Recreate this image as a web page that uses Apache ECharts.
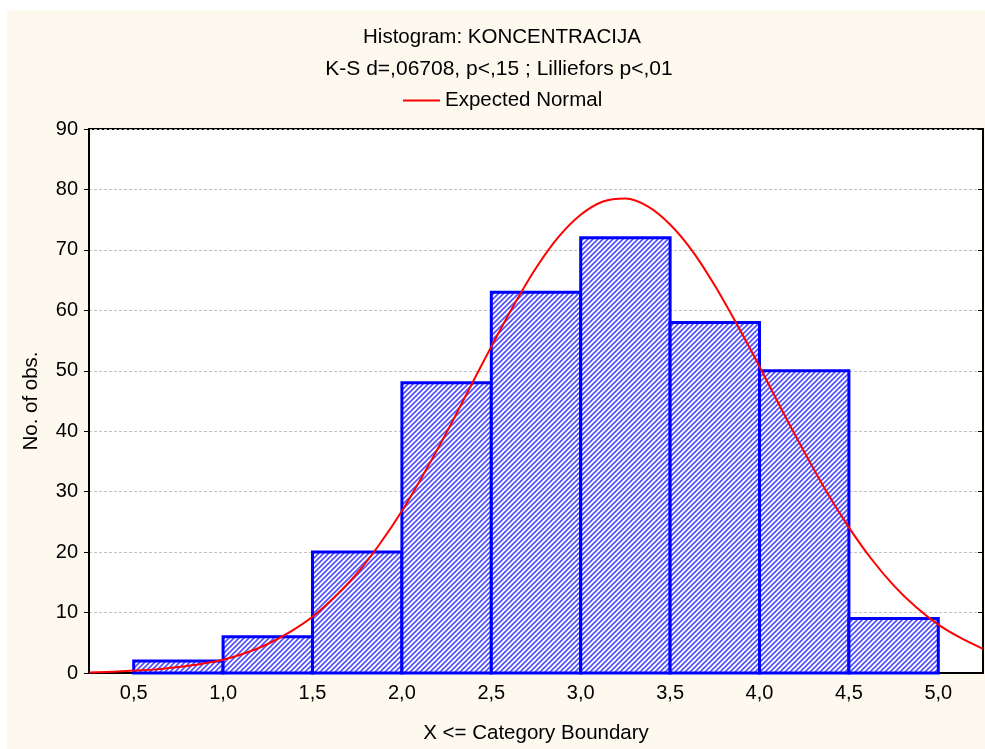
<!DOCTYPE html>
<html>
<head>
<meta charset="utf-8">
<script src="https://cdn.jsdelivr.net/npm/echarts@6/dist/echarts.min.js"></script>
<style>
html,body{margin:0;padding:0;background:#ffffff;width:985px;height:749px;overflow:hidden;}
#chart{position:absolute;left:7px;top:10px;width:978px;height:739px;}
</style>
</head>
<body>
<div id="chart"></div>
<script>
// ---- data ----
const binStart = [0.5, 1.0, 1.5, 2.0, 2.5, 3.0, 3.5, 4.0, 4.5];
const binEnd   = [1.0, 1.5, 2.0, 2.5, 3.0, 3.5, 4.0, 4.5, 5.0];
const counts   = [2, 6, 20, 48, 63, 72, 58, 50, 9];
const curveX = [0.25, 0.375, 0.5, 0.625, 0.75, 0.875, 1.0, 1.125, 1.25, 1.375, 1.5, 1.625, 1.75, 1.875,
                2.0, 2.125, 2.25, 2.375, 2.5, 2.625, 2.75, 2.875, 3.0, 3.125, 3.25, 3.375, 3.5, 3.625,
                3.75, 3.875, 4.0, 4.125, 4.25, 4.375, 4.5, 4.625, 4.75, 4.875, 5.0, 5.125, 5.25];
const curveY = [0.1, 0.2, 0.4, 0.6, 1.0, 1.5, 2.2, 3.3, 4.8, 6.8, 9.3, 12.6, 16.5, 21.3,
                26.8, 33.1, 39.8, 46.9, 54.0, 60.8, 67.0, 72.1, 75.8, 78.0, 78.5, 77.2, 74.2, 69.8,
                64.1, 57.6, 50.7, 43.5, 36.6, 30.0, 24.1, 18.9, 14.5, 10.9, 8.0, 5.8, 4.0];
const xTicks = [0.5, 1.0, 1.5, 2.0, 2.5, 3.0, 3.5, 4.0, 4.5, 5.0];
const titleText = 'Histogram: KONCENTRACIJA';
const subtitleText = 'K-S d=,06708, p<,15 ; Lilliefors p<,01';
const legendName = 'Expected Normal';

// hatch pattern
const pc = document.createElement('canvas');
pc.width = 5; pc.height = 5;
const g = pc.getContext('2d');
g.fillStyle = '#ffffff'; g.fillRect(0,0,5,5);
g.strokeStyle = '#5050ff'; g.lineWidth = 1.6;
g.beginPath();
g.moveTo(-1,6); g.lineTo(6,-1);
g.moveTo(-1,1); g.lineTo(1,-1);
g.moveTo(4,6); g.lineTo(6,4);
g.stroke();

const FONT = '"Liberation Sans", Arial, sans-serif';
const chart = echarts.init(document.getElementById('chart'));
const fmt = v => v.toFixed(1).replace('.', ',');

chart.setOption({
  backgroundColor: '#fdf9ef',
  animation: false,
  title: [
    {text: titleText, left: 495, textAlign: 'center', top: 17, padding: 0,
     textStyle: {fontFamily: FONT, fontSize: 20.5, fontWeight: 'normal', color: '#000'}},
    {text: subtitleText, left: 492, textAlign: 'center', top: 49, padding: 0,
     textStyle: {fontFamily: FONT, fontSize: 21, fontWeight: 'normal', color: '#000'}}
  ],
  legend: {
    data: [legendName], left: 396, top: 80, padding: 0,
    icon: 'rect', itemWidth: 37, itemHeight: 2, itemGap: 8,
    textStyle: {fontFamily: FONT, fontSize: 20.5, color: '#000'}
  },
  grid: {left: 82, right: 2, top: 119, bottom: 75, show: true, backgroundColor: '#ffffff',
         borderColor: '#000', borderWidth: 2},
  xAxis: {
    type: 'value', min: 0.25, max: 5.25,
    name: 'X <= Category Boundary', nameLocation: 'middle', nameGap: 50,
    nameTextStyle: {fontFamily: FONT, fontSize: 20.5, color: '#000'},
    axisLine: {show: true, lineStyle: {color: '#000', width: 2}},
    axisTick: {show: false},
    splitLine: {show: false},
    axisLabel: {customValues: xTicks, formatter: fmt, margin: 10,
                fontFamily: FONT, fontSize: 20, color: '#000'}
  },
  yAxis: [{
    type: 'value', min: 0, max: 90, interval: 10,
    name: 'No. of obs.', nameLocation: 'middle', nameGap: 47, nameRotate: 90,
    nameTextStyle: {fontFamily: FONT, fontSize: 20.5, color: '#000'},
    axisLine: {show: true, lineStyle: {color: '#000', width: 2}},
    axisTick: {show: true, length: 5, lineStyle: {color: '#000'}},
    splitLine: {show: true, lineStyle: {color: '#c0c0c0', type: [3, 2], width: 1}},
    axisLabel: {margin: 11, fontFamily: FONT, fontSize: 20, color: '#000'}
  }, {
    type: 'value', min: 0, max: 90, interval: 10, position: 'right',
    axisLine: {show: true, lineStyle: {color: '#000', width: 2}},
    axisTick: {show: true, inside: true, length: 5, lineStyle: {color: '#000'}},
    axisLabel: {show: false}, splitLine: {show: false}
  }],
  series: [{
    type: 'custom', name: 'bars',
    data: counts.map((c, i) => [binStart[i], binEnd[i], c]),
    renderItem: function (params, api) {
      const p0 = api.coord([api.value(0), api.value(2)]);
      const p1 = api.coord([api.value(1), 0]);
      return {
        type: 'rect',
        shape: {x: p0[0], y: p0[1], width: p1[0] - p0[0], height: p1[1] - p0[1]},
        style: {fill: {image: pc, repeat: 'repeat'}, stroke: '#0000ff', lineWidth: 3}
      };
    },
    encode: {x: [0, 1], y: 2}
  }, {
    type: 'line', name: legendName,
    data: curveX.map((x, i) => [x, curveY[i]]),
    smooth: 0.3, symbol: 'none', clip: true,
    lineStyle: {color: '#ff0000', width: 2}, itemStyle: {color: '#ff0000'}, z: 5
  }]
});
</script>
</body>
</html>
